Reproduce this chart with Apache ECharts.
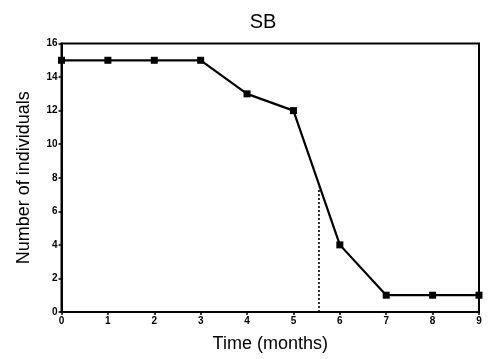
<!DOCTYPE html>
<html><head><meta charset="utf-8">
<script src="https://cdn.jsdelivr.net/npm/echarts@6/dist/echarts.min.js"></script>
<style>html,body{margin:0;padding:0;background:#fff}#c{width:489px;height:359px}</style>
</head><body><div id="c"></div>
<script>
var months = [0,1,2,3,4,5,6,7,8,9];
var individuals = [15,15,15,15,13,12,4,1,1,1];
var dropX = [5.55, 5.55];
var dropY = [0, 7.4];
var xTicks = {min:0, max:9, interval:1};
var yTicks = {min:0, max:16, interval:2};

var chart = echarts.init(document.getElementById('c'));
var font = '"Liberation Sans", Arial, sans-serif';
chart.setOption({
  animation:false,
  title:{text:'SB', left:258, top:7, textAlign:'center',
    textStyle:{fontFamily:font, fontSize:20, fontWeight:'normal', color:'#000'}},
  grid:{left:61.5, right:10, top:43.5, bottom:47, show:true, borderColor:'#000', borderWidth:2, backgroundColor:'transparent'},
  xAxis:{type:'value', min:xTicks.min, max:xTicks.max, interval:xTicks.interval,
    name:'Time (months)', nameLocation:'middle', nameGap:23,
    nameTextStyle:{fontFamily:font, fontSize:18, color:'#000'},
    axisLine:{lineStyle:{color:'#000', width:2}},
    axisTick:{show:true, length:3, lineStyle:{color:'#000', width:1.5}},
    axisLabel:{fontFamily:font, fontSize:10, fontWeight:'bold', color:'#000', margin:4},
    splitLine:{show:false}},
  yAxis:{type:'value', min:yTicks.min, max:yTicks.max, interval:yTicks.interval,
    name:'Number of individuals', nameLocation:'middle', nameGap:28,
    nameTextStyle:{fontFamily:font, fontSize:18, color:'#000'},
    axisLine:{show:true, lineStyle:{color:'#000', width:2}},
    axisTick:{show:true, length:3, lineStyle:{color:'#000', width:1.5}},
    axisLabel:{fontFamily:font, fontSize:10, fontWeight:'bold', color:'#000', margin:4},
    splitLine:{show:false}},
  series:[
    {type:'line', data:months.map(function(m,i){return [m, individuals[i]];}),
     symbol:'rect', symbolSize:7, lineStyle:{color:'#000', width:2.2},
     itemStyle:{color:'#000'}, z:3},
    {type:'line', data:dropX.map(function(x,i){return [x, dropY[i]];}),
     symbol:'none', lineStyle:{color:'#000', width:1.6, type:[2,2]}, z:2}
  ]
});
</script></body></html>
